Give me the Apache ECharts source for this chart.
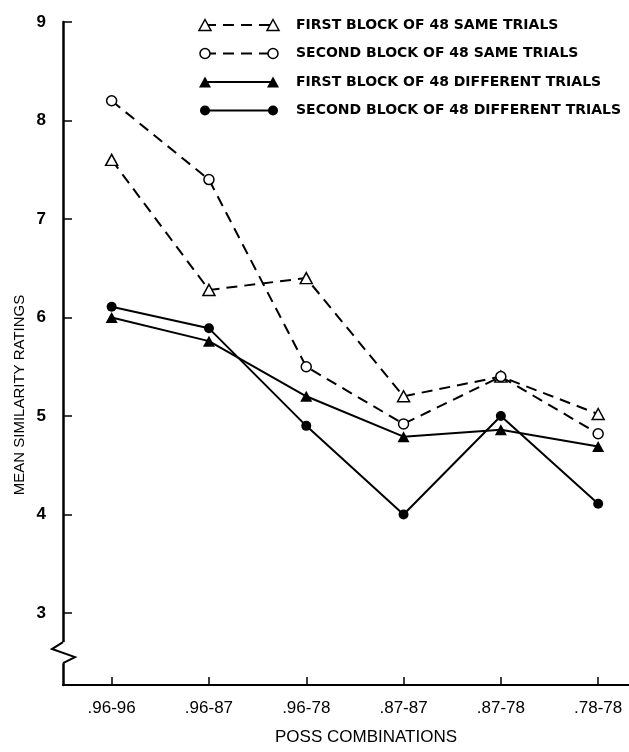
<!DOCTYPE html>
<html>
<head>
<meta charset="utf-8">
<script src="https://cdn.jsdelivr.net/npm/echarts@6/dist/echarts.min.js"></script>
<style>
html, body { margin: 0; padding: 0; background: #fff; }
#chart { width: 629px; height: 752px; }
</style>
</head>
<body>
<div id="chart"></div>
<script>
// categories on the x axis
const categories = ['.96-96', '.96-87', '.96-78', '.87-87', '.87-78', '.78-78'];
const yTicks = [3, 4, 5, 6, 7, 8, 9];

// mean similarity ratings
const firstSame = [7.6, 6.28, 6.4, 5.2, 5.4, 5.02];
const secondSame = [8.2, 7.4, 5.5, 4.92, 5.4, 4.82];
const firstDiff = [6.0, 5.76, 5.2, 4.79, 4.86, 4.69];
const secondDiff = [6.11, 5.89, 4.9, 4.0, 5.0, 4.11];

const seriesNames = [
    'FIRST BLOCK OF 48 SAME TRIALS',
    'SECOND BLOCK OF 48 SAME TRIALS',
    'FIRST BLOCK OF 48 DIFFERENT TRIALS',
    'SECOND BLOCK OF 48 DIFFERENT TRIALS'
];
const seriesValues = [firstSame, secondSame, firstDiff, secondDiff];
const seriesSymbols = ['triangle', 'circle', 'triangle', 'circle'];
const seriesFilled = [false, false, true, true];
const seriesDashed = [true, true, false, false];

var myChart = echarts.init(document.getElementById('chart'));

function symbolSize(i) {
    if (seriesSymbols[i] === 'triangle') return [12, 11];
    return 10;
}

var series = seriesValues.map(function (vals, i) {
    return {
        name: seriesNames[i],
        type: 'line',
        data: vals.map(function (v, k) { return [k, v]; }),
        symbol: seriesSymbols[i],
        symbolSize: symbolSize(i),
        showAllSymbol: true,
        z: seriesFilled[i] ? 3 : 4,
        lineStyle: {
            color: '#000',
            width: 2,
            type: seriesDashed[i] ? [11, 7] : 'solid'
        },
        itemStyle: {
            color: seriesFilled[i] ? '#000' : '#fff',
            borderColor: '#000',
            borderWidth: seriesFilled[i] ? 0 : 1.5
        },
        emphasis: { disabled: true },
        animation: false
    };
});

// legend drawn like the original: marker, line, marker, label
var legendItems = [];
seriesNames.forEach(function (name, i) {
    var y = 25 + i * 28.5;
    legendItems.push({
        type: 'line',
        shape: { x1: 205, y1: y, x2: 273, y2: y },
        style: { stroke: '#000', lineWidth: 2, lineDash: seriesDashed[i] ? [11, 7] : null }
    });
    [205, 273].forEach(function (cx) {
        var style = {
            fill: seriesFilled[i] ? '#000' : '#fff',
            stroke: '#000',
            lineWidth: seriesFilled[i] ? 0 : 1.5
        };
        if (seriesSymbols[i] === 'triangle') {
            legendItems.push({
                type: 'polygon',
                shape: { points: [[cx, y - 5.5], [cx + 6, y + 5.5], [cx - 6, y + 5.5]] },
                style: style
            });
        } else {
            legendItems.push({
                type: 'circle',
                shape: { cx: cx, cy: y, r: 5 },
                style: style
            });
        }
    });
    legendItems.push({
        type: 'text',
        x: 296,
        y: y,
        style: {
            text: name,
            fill: '#000',
            font: 'bold 14px "DejaVu Sans"',
            textVerticalAlign: 'middle'
        }
    });
});

var yName = {
    type: 'text',
    x: 20,
    y: 395,
    rotation: Math.PI / 2,
    style: {
        text: 'MEAN SIMILARITY RATINGS',
        fill: '#000',
        font: '15px "Liberation Sans"',
        textAlign: 'center',
        textVerticalAlign: 'middle'
    }
};

var option = {
    backgroundColor: '#fff',
    animation: false,
    grid: {
        left: 63,
        right: 0,
        top: 22,
        bottom: 67
    },
    xAxis: {
        type: 'value',
        min: -0.5,
        max: 5.317,
        name: 'POSS COMBINATIONS',
        nameLocation: 'middle',
        nameGap: 44,
        nameTextStyle: {
            color: '#000',
            fontFamily: 'Liberation Sans',
            fontSize: 17,
            padding: [0, 0, 0, 40]
        },
        axisLine: { onZero: false, lineStyle: { color: '#000', width: 2 } },
        axisTick: {
            inside: true,
            length: 8,
            customValues: [0, 1, 2, 3, 4, 5],
            lineStyle: { color: '#000', width: 1.5 }
        },
        axisLabel: {
            customValues: [0, 1, 2, 3, 4, 5],
            formatter: function (v) { return categories[Math.round(v)]; },
            color: '#000',
            fontFamily: 'Liberation Sans',
            fontSize: 17,
            margin: 15
        },
        splitLine: { show: false }
    },
    yAxis: {
        type: 'value',
        min: 2.269,
        max: 9,
        axisLine: { show: true, onZero: false, lineStyle: { color: '#000', width: 2.5 } },
        axisTick: {
            show: true,
            inside: true,
            length: 9,
            customValues: yTicks,
            lineStyle: { color: '#000', width: 1.5 }
        },
        axisLabel: {
            customValues: yTicks,
            color: '#000',
            fontFamily: 'Liberation Sans',
            fontWeight: 'bold',
            fontSize: 17,
            margin: 17
        },
        splitLine: { show: false }
    },
    graphic: legendItems.concat([yName]),
    series: series
};

myChart.setOption(option);

// axis break marker on the y axis
var ax = myChart.convertToPixel({ xAxisIndex: 0 }, -0.5);
var yA = myChart.convertToPixel({ yAxisIndex: 0 }, 2.705);
var yB = myChart.convertToPixel({ yAxisIndex: 0 }, 2.49);
myChart.setOption({
    graphic: legendItems.concat([
        yName,
        {
            type: 'rect',
            shape: { x: ax - 3, y: yA, width: 6, height: yB - yA },
            style: { fill: '#fff' },
            z: 100
        },
        {
            type: 'polyline',
            shape: { points: [[ax, yA], [ax - 11, yA + 7], [ax + 12, yA + 15], [ax, yB]] },
            style: { stroke: '#000', lineWidth: 2, fill: null },
            z: 101
        }
    ])
});
</script>
</body>
</html>
